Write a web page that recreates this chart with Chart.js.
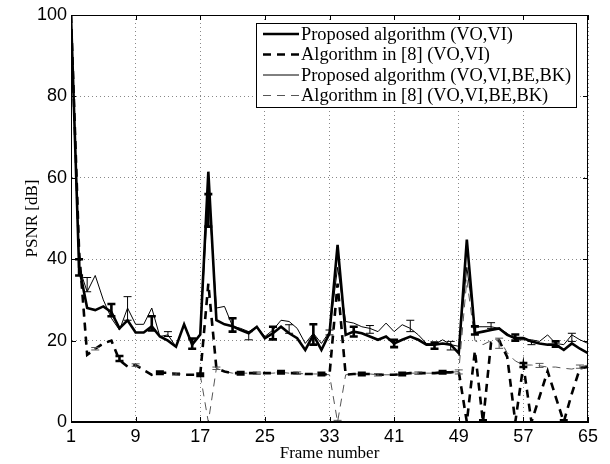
<!DOCTYPE html>
<html>
<head>
<meta charset="utf-8">
<script src="https://cdn.jsdelivr.net/npm/chart.js@4.4.0/dist/chart.umd.min.js"></script>
<style>
  body { margin: 0; background: #fff; }
  #wrap { width: 610px; height: 464px; }
</style>
</head>
<body>
<div id="wrap"><canvas id="psnrChart"></canvas></div>
<script>
// frame numbers and tick labels
const frames = [1,2,3,4,5,6,7,8,9,10,11,12,13,14,15,16,17,18,19,20,21,22,23,24,25,26,27,28,29,30,31,32,33,
  34,35,36,37,38,39,40,41,42,43,44,45,46,47,48,49,50,51,52,53,54,55,56,57,58,59,60,61,62,63,64,65];
const xTicks = [1, 9, 17, 25, 33, 41, 49, 57, 65];

// PSNR values [dB]
const proposedVI = [100,38,28,27.5,28.4,27,23,25,22,22,23.5,21,20,18.5,24,19,21.5,61.5,25,24,23.5,22.6,21.8,23.4,20.6,21.8,
  23.4,21.8,20.6,17.7,21.4,17.7,21.8,43.5,21.4,22.2,21.8,21,20.2,21,19.3,20.2,21,20.2,19,19,19.3,19,16.9,44.8,
  21.8,22.2,22.6,23,21.4,20.6,20.6,19.8,19.3,19,19,17.7,19.3,18,16.9];
const ref8VI = [100,42,16.5,18,19.3,20,15.2,13.6,14,12.8,11.6,12.1,12.1,11.8,11.6,11.6,11.6,34,13.2,12.4,12,12,12,12,12,12,
  12.2,12,12,11.8,11.8,11.8,11.6,34,11.6,11.8,11.8,11.8,11.6,11.6,11.6,11.8,12,12,12,12,12.2,12.2,12.4,0,
  17.5,0,19.5,20,16,0,14,0,6.2,12.5,6.2,0,7,13.2,13.5];
const proposedAll = [100,38,32,36,30,25.5,22.6,28,24,24,28,21,21.4,18.5,24,19.3,21.4,57,28,28.4,23.5,23,22.2,23.4,21,22.6,
  25,24.7,23,19.3,21.8,19.3,22.2,38,24.7,24.3,23.4,23,22.2,24.3,22.2,23.9,23,21.4,19.3,19,20.2,19,18.6,38,
  23.4,23.4,23.4,23,21.8,20.2,20.2,20.2,19.8,21.4,19.3,19,21.4,20.2,19.3];
const ref8All = [100,42,16.5,18,19.3,20,15.2,13.6,14,12.8,11.6,12.1,12.1,11.8,11.6,11.6,11.6,0,13.2,12.4,12,12,12,12,12,12,
  12.2,12,12,11.8,11.8,11.8,11.6,0,11.6,11.8,11.8,11.8,11.6,11.6,11.6,11.8,12,12,12,12,12.2,12.2,12.4,35,
  20,19,20,20.5,17,15,14,14,13.8,13.5,13.5,13.2,13,13.5,14];

// error bars
const proposedVIBarFrames = [2,6,11,16,18,21,26,31,36,41,46,51,56,61];
const proposedVIBarLow  = [36,26,22.5,18,48,22.2,20.3,19,21,18.4,18,21.5,20,18.5];
const proposedVIBarHigh = [40,29,26,20.5,56,25.5,23.4,24,23.4,20.2,19.5,23.5,21.5,19.8];
const ref8VIBarFrames = [7,12,17,22,27,32,37,42,47,52,57,62];
const ref8VIBarLow  = [15,11.8,11.3,11.7,11.9,11.5,11.5,11.5,11.9,0,13.5,0];
const ref8VIBarHigh = [16.2,12.4,11.9,12.3,12.5,12.1,12.1,12.1,12.5,0.4,14.5,0.4];
const proposedAllBarFrames = [3,8,13,23,28,33,38,43,48,53,58,63];
const proposedAllBarLow  = [32,25,21,20.2,21.8,21.4,21.8,22.2,17.7,23,19,19.8];
const proposedAllBarHigh = [35.5,30.8,22.2,22.2,23.9,22.6,23.7,25,19.8,24.4,19.8,21.8];
const ref8AllBarFrames = [4,9,14,19,24,29,34,39,44,49,54,59,64];
const ref8AllBarLow  = [17.7,13.7,11.5,12.9,11.7,11.7,0,11.3,11.7,11.8,18.1,13.4,13.2];
const ref8AllBarHigh = [18.3,14.3,12.1,13.5,12.3,12.3,0.4,11.9,12.3,12.8,20.6,14.4,14];

const seriesLabels = [
  'Proposed algorithm (VO,VI)',
  'Algorithm in [8] (VO,VI)',
  'Proposed algorithm (VO,VI,BE,BK)',
  'Algorithm in [8] (VO,VI,BE,BK)'
];

const toPoints = vals => frames.map((f, i) => ({ x: f, y: vals[i] }));

const errorBars = {
  id: 'errorBars',
  afterDatasetsDraw(chart) {
    const { ctx, scales: { x, y } } = chart;
    ctx.save();
    ctx.beginPath();
    ctx.rect(chart.chartArea.left, chart.chartArea.top, chart.chartArea.width, chart.chartArea.height);
    ctx.clip();
    chart.data.datasets.forEach(ds => {
      ctx.strokeStyle = ds.borderColor;
      ctx.lineWidth = ds.borderWidth;
      ctx.setLineDash([]);
      ds.errFrames.forEach((f, i) => {
        const px = x.getPixelForValue(f);
        const lo = y.getPixelForValue(ds.errLow[i]);
        const hi = y.getPixelForValue(ds.errHigh[i]);
        ctx.beginPath();
        ctx.moveTo(px, lo); ctx.lineTo(px, hi);
        ctx.moveTo(px - 4, lo); ctx.lineTo(px + 4, lo);
        ctx.moveTo(px - 4, hi); ctx.lineTo(px + 4, hi);
        ctx.stroke();
      });
    });
    ctx.restore();
  }
};

// box round the plot, inward ticks, legend
const frameAndLegend = {
  id: 'frameAndLegend',
  afterDraw(chart) {
    const { ctx, chartArea: a, scales: { x, y } } = chart;
    ctx.save();
    ctx.strokeStyle = '#000';
    ctx.lineWidth = 1;
    ctx.setLineDash([]);
    ctx.strokeRect(a.left + 0.5, a.top + 0.5, a.width - 1, a.height - 1);
    ctx.beginPath();
    x.ticks.forEach(t => {
      const px = Math.round(x.getPixelForValue(t.value)) + 0.5;
      ctx.moveTo(px, a.bottom); ctx.lineTo(px, a.bottom - 5);
      ctx.moveTo(px, a.top); ctx.lineTo(px, a.top + 5);
    });
    y.ticks.forEach(t => {
      const py = Math.round(y.getPixelForValue(t.value)) + 0.5;
      ctx.moveTo(a.left, py); ctx.lineTo(a.left + 5, py);
      ctx.moveTo(a.right, py); ctx.lineTo(a.right - 5, py);
    });
    ctx.stroke();

    // legend
    const bw = 320, bh = 84;
    const bx = a.right - 12 - bw, by = a.top + 8;
    ctx.fillStyle = '#fff';
    ctx.fillRect(bx, by, bw, bh);
    ctx.strokeRect(bx + 0.5, by + 0.5, bw, bh);
    ctx.font = '18.4px "Liberation Serif", "Times New Roman", serif';
    ctx.textBaseline = 'middle';
    chart.data.datasets.forEach((ds, i) => {
      const cy = by + 11 + i * 20.5;
      ctx.strokeStyle = ds.borderColor;
      ctx.lineWidth = ds.borderWidth;
      ctx.setLineDash(ds.borderDash || []);
      ctx.beginPath();
      ctx.moveTo(bx + 7, cy); ctx.lineTo(bx + 43, cy);
      ctx.stroke();
      ctx.fillStyle = '#000';
      ctx.fillText(ds.label, bx + 45, cy + 1);
    });
    ctx.restore();
  }
};

const makeSet = (label, vals, width, dash, color, bf, bl, bh) => ({
  label: label,
  data: toPoints(vals),
  borderColor: color,
  borderWidth: width,
  borderDash: dash,
  pointRadius: 0,
  fill: false,
  tension: 0,
  errFrames: bf,
  errLow: bl,
  errHigh: bh
});

const data = {
  datasets: [
    makeSet(seriesLabels[0], proposedVI, 2.6, [], '#000', proposedVIBarFrames, proposedVIBarLow, proposedVIBarHigh),
    makeSet(seriesLabels[1], ref8VI, 2.6, [8, 6], '#000', ref8VIBarFrames, ref8VIBarLow, ref8VIBarHigh),
    makeSet(seriesLabels[2], proposedAll, 1, [], '#000', proposedAllBarFrames, proposedAllBarLow, proposedAllBarHigh),
    makeSet(seriesLabels[3], ref8All, 1, [8, 6], '#555', ref8AllBarFrames, ref8AllBarLow, ref8AllBarHigh)
  ]
};

const tickFont = { family: '"Liberation Sans", Arial, sans-serif', size: 18 };
const titleFont = { family: '"Liberation Serif", "Times New Roman", serif', size: 17 };

const config = {
  type: 'line',
  data: data,
  options: {
    responsive: true,
    maintainAspectRatio: false,
    animation: false,
    layout: { padding: { top: 15, right: 22, left: 22, bottom: 0 } },
    plugins: {
      legend: { display: false },
      tooltip: { enabled: false }
    },
    scales: {
      x: {
        type: 'linear',
        min: 1,
        max: 65,
        afterBuildTicks: scale => { scale.ticks = xTicks.map(v => ({ value: v })); },
        afterFit: scale => { scale.height = 42; },
        ticks: { font: tickFont, color: '#000', padding: 4, maxRotation: 0, autoSkip: false },
        grid: { color: '#888', lineWidth: 1, drawTicks: false },
        border: { display: true, color: '#000', dash: [1, 3] },
        title: { display: true, text: 'Frame number', font: titleFont, color: '#000', padding: { top: 0, bottom: 0 } }
      },
      y: {
        min: 0,
        max: 100,
        afterFit: scale => { scale.width = 49; },
        ticks: { stepSize: 20, font: tickFont, color: '#000', padding: 4 },
        grid: { color: '#888', lineWidth: 1, drawTicks: false },
        border: { display: true, color: '#000', dash: [1, 3] },
        title: { display: true, text: 'PSNR [dB]', font: titleFont, color: '#000', padding: { top: 0, bottom: 0 } }
      }
    }
  },
  plugins: [errorBars, frameAndLegend]
};

const ctx = document.getElementById('psnrChart').getContext('2d');
const psnrChart = new Chart(ctx, config);
</script>
</body>
</html>
